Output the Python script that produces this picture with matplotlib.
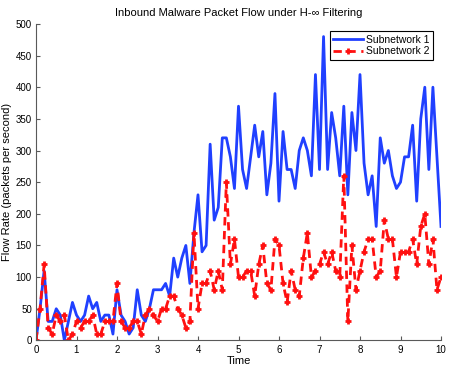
import numpy as np
import matplotlib
matplotlib.use("Agg")
import matplotlib.pyplot as plt

plt.rcParams['font.family'] = ['Liberation Sans', 'DejaVu Sans']

time = [i / 10 for i in range(101)]
subnet1 = [0, 50, 110, 30, 30, 50, 40, 0, 30, 60,
           40, 30, 40, 70, 50, 60, 30, 40, 40, 10,
           80, 40, 30, 10, 20, 80, 40, 30, 50, 80,
           80, 80, 90, 70, 130, 100, 130, 150, 90, 170,
           230, 140, 150, 310, 190, 210, 320, 320, 290, 240,
           370, 270, 240, 290, 340, 290, 330, 230, 280, 390,
           220, 330, 270, 270, 240, 300, 320, 300, 260, 420,
           270, 480, 270, 360, 320, 260, 370, 230, 360, 300,
           420, 280, 230, 260, 180, 320, 280, 300, 260, 240,
           250, 290, 290, 340, 220, 350, 400, 270, 400, 290, 180]
subnet2 = [0, 50, 120, 20, 10, 40, 30, 40, 0, 10,
           30, 20, 30, 30, 40, 10, 10, 30, 30, 30,
           90, 30, 20, 20, 30, 30, 10, 40, 50, 40,
           30, 50, 50, 70, 70, 50, 40, 20, 30, 170,
           50, 90, 90, 110, 80, 110, 80, 250, 120, 160,
           100, 100, 110, 110, 70, 120, 150, 90, 80, 160,
           150, 90, 60, 110, 80, 70, 130, 170, 100, 110,
           120, 140, 120, 140, 110, 100, 260, 30, 150, 80,
           110, 140, 160, 160, 100, 110, 190, 160, 160, 100,
           140, 140, 140, 160, 120, 180, 200, 120, 160, 80, 100]
labels = ["Subnetwork 1", "Subnetwork 2"]
title = "Inbound Malware Packet Flow under H-\u221e Filtering"

fig = plt.figure(figsize=(4.5, 3.68), dpi=100)
ax = fig.add_axes([0.08, 0.075, 0.9, 0.86])
ax.plot(time, subnet1, color='#2040ff', lw=2, label=labels[0])
ax.plot(time, subnet2, color='#ff1010', lw=2, ls=(0, (3, 2)), marker='+',
        ms=5, mew=2, label=labels[1])

ax.set_xlim(0, 10)
ax.set_ylim(0, 500)
ax.set_xticks(range(0, 11))
ax.set_yticks(range(0, 501, 50))
for s in ['top', 'right']:
    ax.spines[s].set_visible(False)
for s in ['left', 'bottom']:
    ax.spines[s].set_color('0.35')
    ax.spines[s].set_linewidth(0.8)
ax.tick_params(direction='in', length=3, width=0.8, color='0.35', labelsize=7, pad=3)
ax.set_xlabel("Time", fontsize=8, labelpad=1)
ax.set_ylabel("Flow Rate (packets per second)", fontsize=8, labelpad=3)
ax.set_title(title, fontsize=8, pad=6)
leg = ax.legend(loc='upper right', fontsize=7.5, fancybox=False, framealpha=1,
                edgecolor='black', borderpad=0.35, handlelength=2.8, numpoints=1,
                handletextpad=0.3, labelspacing=0.15, borderaxespad=0.4,
                bbox_to_anchor=(0.99, 0.99))
leg.get_frame().set_linewidth(0.8)
fig.savefig("out.png", dpi=100)
